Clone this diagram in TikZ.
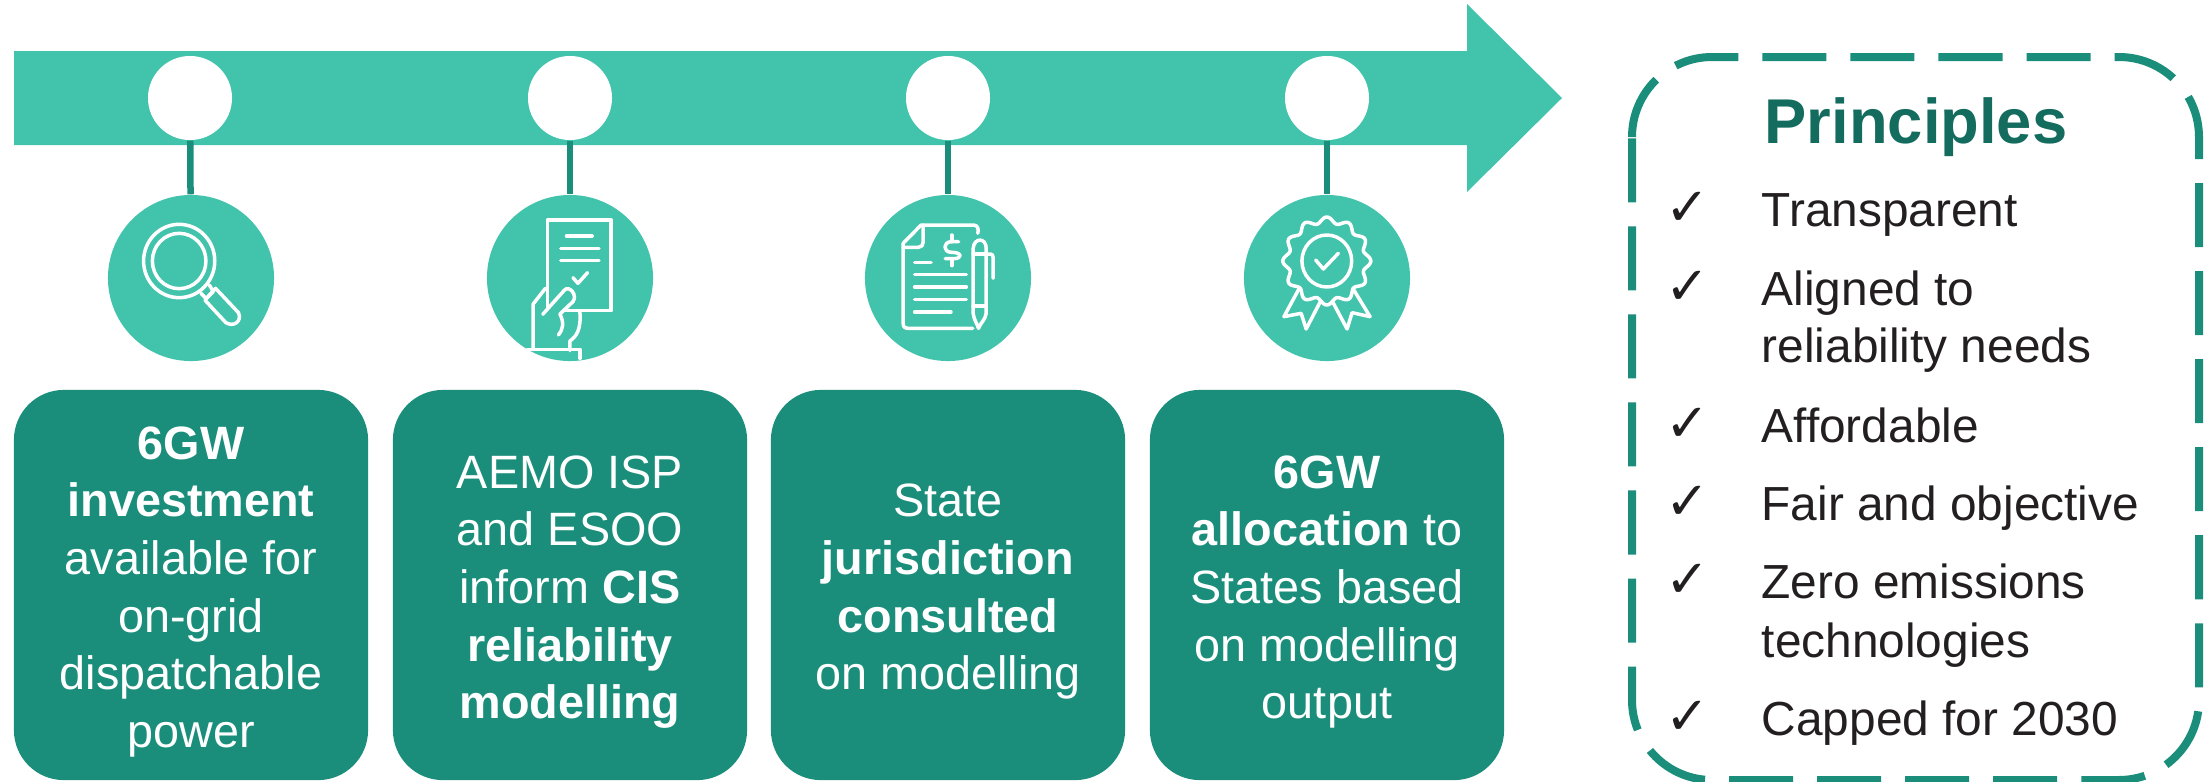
\documentclass[tikz,border=0pt]{standalone}
\usepackage{fontspec}
\setmainfont{Liberation Sans}
\newfontfamily\tickfont{DejaVu Sans}
\definecolor{lightteal}{HTML}{41C3AC}
\definecolor{darkteal}{HTML}{1B8E7B}
\definecolor{titleteal}{HTML}{146C5F}
\definecolor{itemgrey}{HTML}{231F20}
\tikzset{
  dotnode/.style={circle,fill=white,inner sep=0pt,minimum size=0.84cm},
  iconnode/.style={circle,fill=lightteal,inner sep=0pt,minimum size=1.66cm},
  stem/.style={draw=darkteal,line width=0.065cm},
  stepbox/.style={rectangle,fill=darkteal,rounded corners=0.5cm,inner sep=0pt,
    minimum width=3.54cm,minimum height=3.9cm},
  steptext/.style={inner sep=0pt,text=white,align=center,
    font=\fontsize{13.3}{16.4}\selectfont},
  frame/.style={draw=darkteal,line width=0.08cm,rounded corners=0.8cm,dash pattern=on 0.64cm off 0.24cm},
  item/.style={anchor=base west,inner sep=0pt,text=itemgrey,align=left,
    font=\fontsize{13.6}{16.2}\selectfont},
  tick/.style={anchor=base west,inner sep=0pt,text=itemgrey,font=\tickfont\fontsize{15}{15}\selectfont},
  iconline/.style={draw=white,line width=0.035cm,line cap=round,line join=round},
  zoomleft/.style={shift={(90,180)},xscale=0.3827,yscale=0.3333},
  zoomright/.style={shift={(840,180)},xscale=0.3827,yscale=0.3333}
}
\begin{document}
\begin{tikzpicture}[x=0.01cm,y=-0.01cm]
  \useasboundingbox (0,0) rectangle (2211,781);
  \fill[lightteal] (14,51) -- (1467,51) -- (1467,4) -- (1562,98) -- (1467,192) -- (1467,145) -- (14,145) -- cycle;

  \node[dotnode] (dot1) at (190,98) {};
  \node[dotnode] (dot2) at (570,98) {};
  \node[dotnode] (dot3) at (948,98) {};
  \node[dotnode] (dot4) at (1327,98) {};

  \node[iconnode] (icon1) at (191,278) {};
  \node[iconnode] (icon2) at (570,278) {};
  \node[iconnode] (icon3) at (948,278) {};
  \node[iconnode] (icon4) at (1327,278) {};

  \draw[stem] (dot1) -- (icon1);
  \draw[stem] (dot2) -- (icon2);
  \draw[stem] (dot3) -- (icon3);
  \draw[stem] (dot4) -- (icon4);

  \begin{scope}[zoomleft,iconline]
    \draw (233,243) circle [x radius=93,y radius=110];
    \draw (233,243) circle [x radius=70,y radius=83];
    \draw (290,340) -- (304,356) -- (322,335) -- (312,315);
    \draw (328,325) -- (388,398) .. controls (398,425) and (375,442) .. (355,428) -- (300,360) -- cycle;

    \draw (1195,385) -- (1195,120) -- (1362,120) -- (1362,392) -- (1240,392);
    \draw (1245,168) -- (1312,168);
    \draw (1230,205) -- (1330,205);
    \draw (1230,241) -- (1330,241);
    \draw (1262,293) -- (1275,310) -- (1300,278);
    \draw (1142,508) -- (1280,508) -- (1280,535);
    \draw (1158,508) -- (1158,372) -- (1190,325);
    \draw (1183,403) -- (1240,330) .. controls (1252,315) and (1275,345) .. (1262,365) -- (1228,402) .. controls (1240,430) and (1235,450) .. (1224,465);
    \draw (1280,395) .. controls (1284,450) and (1270,470) .. (1254,483) -- (1254,512);
  \end{scope}

  \begin{scope}[zoomright,iconline]
    \draw (165,190) -- (212,135) -- (350,135) .. controls (362,137) and (362,150) .. (360,160);
    \draw (165,190) -- (165,430) .. controls (165,442) and (170,445) .. (180,445) -- (347,445);
    \draw (165,202) -- (205,202) .. controls (213,202) and (217,195) .. (217,188) -- (217,135);
    \draw (195,247) -- (238,247);
    \draw (195,284) -- (330,284);
    \draw (195,321) -- (330,321);
    \draw (195,358) -- (330,358);
    \draw (195,396) -- (290,396);
    \draw (292,165) -- (292,185);
    \draw (310,185) -- (292,185) .. controls (268,185) and (268,217) .. (292,217) .. controls (320,217) and (320,236) .. (297,236) -- (275,236);
    \draw (292,236) -- (292,257);
    \draw (348,380) -- (348,205) .. controls (350,172) and (382,172) .. (382,205) -- (382,380);
    \draw (348,222) -- (382,222);
    \draw (348,378) -- (382,378);
    \draw (348,380) -- (348,400) .. controls (350,420) and (358,430) .. (362,445) .. controls (366,430) and (380,420) .. (382,400) -- (382,380);
    \draw (385,222) -- (393,222) .. controls (398,222) and (400,226) .. (400,232) -- (400,295);

    \draw (1272,243) circle [x radius=65,y radius=78];
    \draw (1243,240) -- (1263,267) -- (1302,220);
    \draw plot[domain=0:360,samples=181] ({1272+(41+3*cos(12*\x))*2.613*sin(\x)},{243-(41+3*cos(12*\x))*3*cos(\x)}) -- cycle;
    \draw (1200,325) -- (1160,410) -- (1205,400) -- (1218,447) -- (1255,365);
    \draw (1340,325) -- (1385,410) -- (1338,398) -- (1325,447) -- (1287,365);
  \end{scope}

  \node[stepbox] (box1) at (191,585) {};
  \node[stepbox] (box2) at (570,585) {};
  \node[stepbox] (box3) at (948,585) {};
  \node[stepbox] (box4) at (1327,585) {};
  \node[steptext] (text1) at (191,592) {\textbf{6GW}\\\textbf{investment}\\available for\\on-grid\\dispatchable\\power};
  \node[steptext] (text2) at (570,592) {AEMO ISP\\and ESOO\\inform \textbf{CIS}\\\textbf{reliability}\\\textbf{modelling}};
  \node[steptext] (text3) at (948,592) {State\\\textbf{jurisdiction}\\\textbf{consulted}\\on modelling};
  \node[steptext] (text4) at (1327,592) {\textbf{6GW}\\\textbf{allocation} to\\States based\\on modelling\\output};

  \draw[frame] (1632,137) -- (1632,57) -- (2199,57) -- (2199,780) -- (1632,780) -- (1632,137);
  \node[anchor=base,inner sep=0pt,text=titleteal,font=\fontsize{18}{18}\selectfont\bfseries] (title) at (1916,143) {Principles};

  \node[item] (item1) at (1761,226) {Transparent};
  \node[item] (item2) at (1761,305) {Aligned to};
  \node[item] (item2b) at (1761,362) {reliability needs};
  \node[item] (item3) at (1761,442) {Affordable};
  \node[item] (item4) at (1761,520) {Fair and objective};
  \node[item] (item5) at (1761,598) {Zero emissions};
  \node[item] (item5b) at (1761,657) {technologies};
  \node[item] (item6) at (1761,735) {Capped for 2030};

  \node[tick] (tick1) at (1665,225) {✓};
  \node[tick] (tick2) at (1665,304) {✓};
  \node[tick] (tick3) at (1665,441) {✓};
  \node[tick] (tick4) at (1665,519) {✓};
  \node[tick] (tick5) at (1665,597) {✓};
  \node[tick] (tick6) at (1665,734) {✓};
\end{tikzpicture}
\end{document}
